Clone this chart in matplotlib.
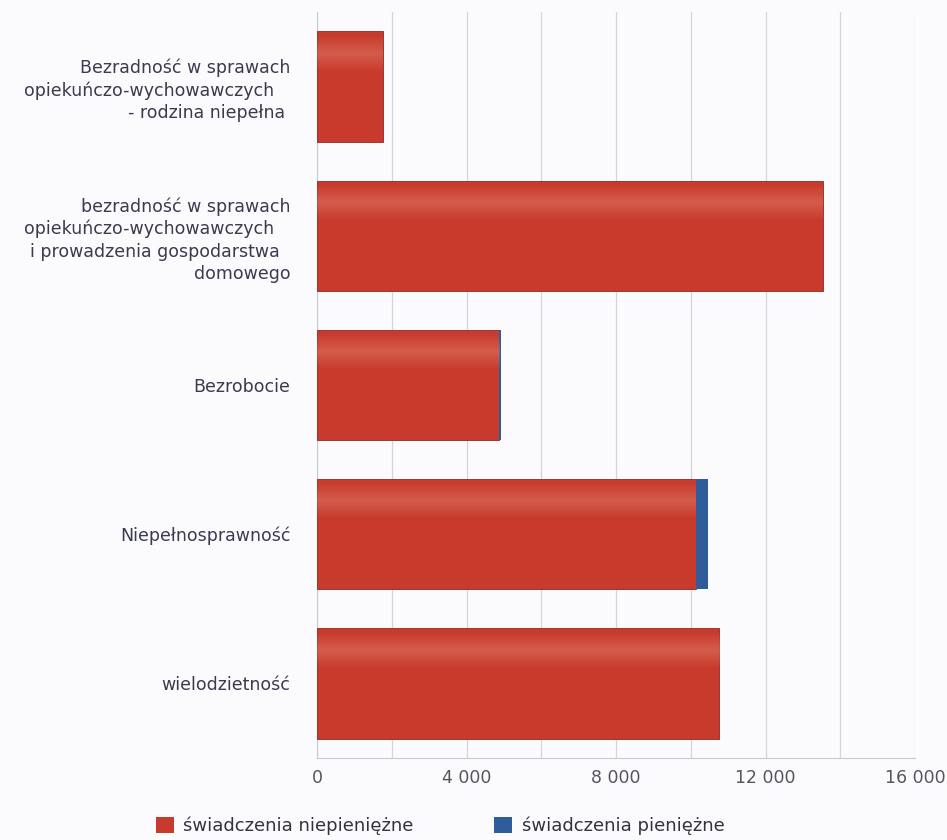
import matplotlib
matplotlib.use("Agg")
import matplotlib.pyplot as plt
import numpy as np
from matplotlib.patches import Patch

categories = [
    "Bezradność w sprawach\nopiekuńczo-wychowawczych   \n- rodzina niepełna ",
    "bezradność w sprawach\nopiekuńczo-wychowawczych   \ni prowadzenia gospodarstwa  \ndomowego",
    "Bezrobocie",
    "Niepełnosprawność",
    "wielodzietność",
]
niepieniezne = [1760, 13530, 4880, 10130, 10760]
pieniezne = [0, 0, 40, 340, 0]
series_names = ["świadczenia niepieniężne", "świadczenia pieniężne"]
xticks = [0, 4000, 8000, 12000, 16000]
xtick_labels = ["0", "4 000", "8 000", "12 000", "16 000"]

red = "#c83a2c"
blue = "#2f5c9a"

fig = plt.figure(figsize=(9.47, 8.4), dpi=100)
fig.patch.set_facecolor("#fbfbfd")
ax = fig.add_axes([317/947, 1-758/840, (915-317)/947, (758-12)/840])
ax.set_facecolor("#fbfbfd")

y = np.arange(len(categories))
b1 = ax.barh(y, niepieniezne, height=0.74, color=red, edgecolor="#8e2a22", linewidth=0.6, zorder=3)
b2 = ax.barh(y, pieniezne, left=niepieniezne, height=0.74, color=blue, linewidth=0, zorder=3)

# subtle glossy highlight via gradient image clipped to each red bar
grad = np.linspace(0, 1, 256).reshape(-1, 1)
for rect in b1:
    x0, y0 = rect.get_x(), rect.get_y()
    w, h = rect.get_width(), rect.get_height()
    prof = np.clip(1 - np.abs(grad - 0.2) * 6, 0, 1) * 0.22
    img = np.zeros((256, 1, 4))
    img[..., 0] = 1.0
    img[..., 1] = 0.85
    img[..., 2] = 0.75
    img[..., 3] = prof
    im = ax.imshow(img, extent=[x0, x0 + w, y0 + h, y0], aspect="auto", zorder=4,
                   origin="upper", interpolation="bilinear")
    im.set_clip_path(rect)

ax.set_xlim(0, 16000)
ax.set_ylim(len(categories) - 0.5, -0.5)
ax.set_xticks(xticks)
ax.set_xticklabels(xtick_labels)
ax.set_xticks(np.arange(2000, 16001, 4000), minor=True)
ax.tick_params(axis="x", which="both", length=0, pad=8, labelsize=12.5, labelcolor="#555560")
ax.grid(axis="x", which="both", color="#d4d4dc", linewidth=0.9, zorder=0)
ax.set_yticks(y)
ax.set_yticklabels(categories, fontsize=12.5, color="#3a3a50", linespacing=1.3)
ax.tick_params(axis="y", length=0, pad=19)
for s in ["top", "right"]:
    ax.spines[s].set_visible(False)
ax.spines["left"].set_color("#c8c8d0")
ax.spines["bottom"].set_color("#c8c8d0")

handles = [Patch(facecolor=red, edgecolor="none"), Patch(facecolor=blue, edgecolor="none")]
fig.legend(handles, series_names, loc="center", bbox_to_anchor=(440/947, 1-826/840), ncol=2,
           frameon=False, fontsize=13, handlelength=1.0, handleheight=1.0,
           handletextpad=0.5, columnspacing=4.5, labelcolor="#333340")

fig.savefig("out.png", dpi=100, facecolor=fig.get_facecolor())
